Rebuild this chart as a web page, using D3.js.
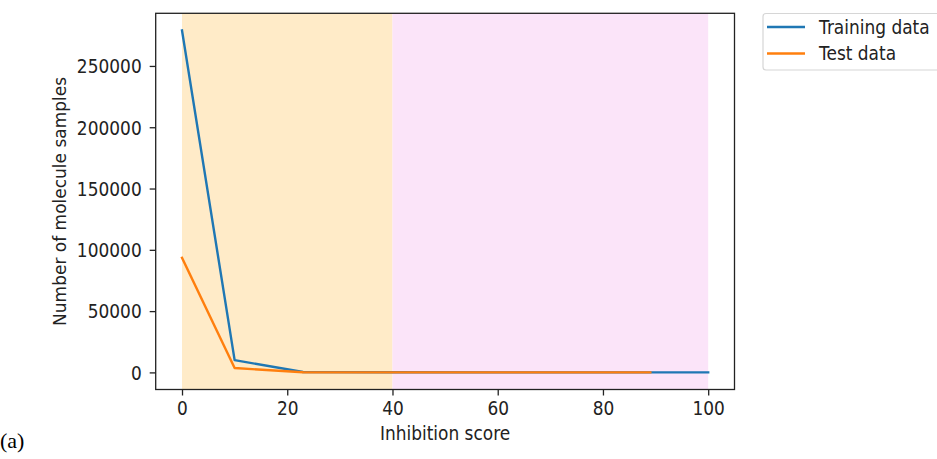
<!DOCTYPE html>
<html>
<head>
<meta charset="utf-8">
<script src="https://cdn.jsdelivr.net/npm/d3@7"></script>
<style>
  body { margin: 0; background: #fff; }
  svg { display: block; font-family: "DejaVu Sans", sans-serif; }
</style>
</head>
<body>
<svg id="chart" width="937" height="459"></svg>
<script>
// Data
const trainX = [0, 10, 23, 40, 60, 80, 100];
const trainY = [279000, 10000, 300, 100, 50, 20, 10];
const testX = [0, 10, 23, 40, 60, 89];
const testY = [93500, 3600, 100, 30, 10, 5];
const xTicks = [0, 20, 40, 60, 80, 100];
const yTicks = [0, 50000, 100000, 150000, 200000, 250000];
const bands = [
  { from: 0, to: 40, color: "rgb(255,235,200)" },
  { from: 40, to: 100, color: "rgb(251,228,249)" }
];
const seriesNames = ["Training data", "Test data"];
const seriesColors = ["#1f77b4", "#ff7f0e"];

const svg = d3.select("#chart");
const pL = 155.7, pR = 734.5, pT = 13.3, pB = 389.5;
const FS = 17, SY = 1.12;

const maxY = d3.max(trainY.concat(testY));
const x = d3.scaleLinear().domain([-5, 105]).range([pL, pR]);
const y = d3.scaleLinear().domain([-0.05 * maxY, maxY * 1.05]).range([pB, pT]);

// shaded bands
svg.append("g").selectAll("rect").data(bands).join("rect")
  .attr("x", d => x(d.from)).attr("width", d => x(d.to) - x(d.from))
  .attr("y", pT).attr("height", pB - pT)
  .attr("fill", d => d.color);

// lines
const line = d3.line().x(d => x(d[0])).y(d => y(d[1]));
const series = [d3.zip(trainX, trainY), d3.zip(testX, testY)];
svg.append("g").selectAll("path").data(series).join("path")
  .attr("d", line).attr("fill", "none")
  .attr("stroke", (d, i) => seriesColors[i]).attr("stroke-width", 2.4)
  .attr("stroke-linejoin", "round").attr("stroke-linecap", "square");

// axes
const xAxis = d3.axisBottom(x).tickValues(xTicks).tickSize(6).tickPadding(5).tickFormat(d3.format("d"));
const yAxis = d3.axisLeft(y).tickValues(yTicks).tickSize(6).tickPadding(8).tickFormat(d3.format("d"));
const gx = svg.append("g").attr("transform", `translate(0,${pB})`).call(xAxis);
const gy = svg.append("g").attr("transform", `translate(${pL},0)`).call(yAxis);
[gx, gy].forEach(g => {
  g.select(".domain").remove();
  g.selectAll(".tick line").attr("stroke", "#222").attr("stroke-width", 1.3);
  g.selectAll(".tick text").attr("fill", "#222").style("font-size", FS + "px").style("font-family", "DejaVu Sans");
});
gx.selectAll(".tick text").attr("y", 26 / SY).attr("dy", 0).attr("transform", `scale(1,${SY})`);
gy.selectAll(".tick text").attr("dy", "0.36em").attr("transform", `scale(1,${SY})`);

// frame
svg.append("rect").attr("x", pL).attr("y", pT)
  .attr("width", pR - pL).attr("height", pB - pT)
  .attr("fill", "none").attr("stroke", "#222").attr("stroke-width", 1.3);

// labels
svg.append("text").attr("transform", `translate(${(pL + pR) / 2},440) scale(1,${SY})`)
  .attr("text-anchor", "middle").attr("fill", "#222").style("font-size", FS + "px")
  .text("Inhibition score");
svg.append("text").attr("transform", `translate(66,${(pT + pB) / 2}) rotate(-90)`)
  .attr("text-anchor", "middle").attr("fill", "#222").style("font-size", FS + "px")
  .text("Number of molecule samples");
svg.append("text").attr("x", 0).attr("y", 448)
  .attr("fill", "#000").style("font-size", "22px").style("font-family", "Liberation Serif, Times New Roman, serif")
  .text("(a)");

// legend
const lg = svg.append("g");
lg.append("rect").attr("x", 763).attr("y", 13.5).attr("width", 190).attr("height", 56.5)
  .attr("rx", 3).attr("fill", "#fff").attr("stroke", "#d6d6d6").attr("stroke-width", 1.2);
seriesNames.forEach((name, i) => {
  const yy = 27 + i * 26.5;
  lg.append("line").attr("x1", 767).attr("x2", 805).attr("y1", yy).attr("y2", yy)
    .attr("stroke", seriesColors[i]).attr("stroke-width", 2.4);
  lg.append("text").attr("transform", `translate(819,${yy + 6.5}) scale(1,${SY})`).attr("fill", "#222")
    .style("font-size", FS + "px").text(name);
});
</script>
</body>
</html>
